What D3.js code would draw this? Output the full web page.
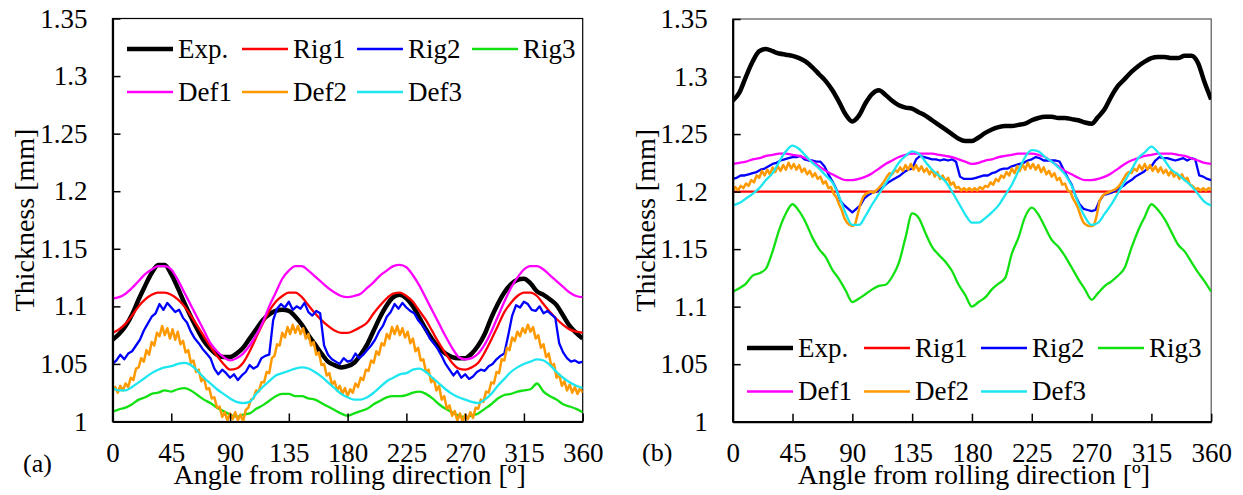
<!DOCTYPE html>
<html>
<head>
<meta charset="utf-8">
<script src="https://cdn.jsdelivr.net/npm/d3@7"></script>
<style>
  body { margin: 0; background: #fff; }
  svg text { font-family: "Liberation Serif", "Times New Roman", Tinos, serif !important; }
</style>
</head>
<body>
<svg id="fig" width="1243" height="495"></svg>
<script>
// ---- sampling angles (degrees from rolling direction) ----
const angles5 = d3.range(0, 361, 5);
const angles3 = d3.range(0, 361, 3);
const angles2 = d3.range(0, 361, 2);
const anglesFlat = [0, 45, 90, 135, 180, 225, 270, 315, 360];

// ---- axis ticks ----
const xTicks = [0, 45, 90, 135, 180, 225, 270, 315, 360];
const yTicks = [1, 1.05, 1.1, 1.15, 1.2, 1.25, 1.3, 1.35];

// ---- series names ----
const seriesNames = ["Exp.", "Rig1", "Rig2", "Rig3", "Def1", "Def2", "Def3"];

// ---- panel (a) thickness [mm] ----
const expA = [1.071,1.076,1.083,1.093,1.106,1.118,1.129,1.136,1.136,1.128,1.116,1.103,1.091,1.080,1.070,1.063,1.058,1.056,1.056,1.059,1.064,1.072,1.080,1.088,1.093,1.096,1.097,1.096,1.091,1.084,1.075,1.067,1.059,1.052,1.049,1.047,1.048,1.051,1.058,1.067,1.079,1.091,1.101,1.108,1.110,1.107,1.100,1.090,1.080,1.071,1.064,1.059,1.056,1.055,1.055,1.059,1.066,1.076,1.090,1.102,1.112,1.119,1.123,1.124,1.120,1.113,1.110,1.106,1.101,1.092,1.083,1.077,1.072];
const rig1A = [1.077,1.080,1.085,1.092,1.100,1.106,1.110,1.112,1.112,1.110,1.106,1.100,1.092,1.083,1.074,1.065,1.057,1.050,1.045,1.046,1.051,1.061,1.073,1.085,1.096,1.104,1.109,1.112,1.112,1.108,1.101,1.094,1.088,1.083,1.079,1.077,1.077,1.079,1.082,1.086,1.094,1.101,1.107,1.111,1.112,1.109,1.104,1.096,1.088,1.078,1.068,1.059,1.051,1.046,1.045,1.047,1.051,1.060,1.071,1.083,1.095,1.103,1.109,1.112,1.112,1.109,1.102,1.095,1.089,1.084,1.080,1.078,1.077];
const rig2A = [1.050,1.053,1.058,1.054,1.059,1.061,1.066,1.071,1.079,1.085,1.091,1.094,1.102,1.097,1.103,1.099,1.095,1.097,1.090,1.086,1.078,1.072,1.068,1.063,1.059,1.055,1.046,1.041,1.045,1.042,1.038,1.041,1.036,1.040,1.043,1.049,1.046,1.048,1.055,1.057,1.058,1.088,1.098,1.102,1.099,1.104,1.097,1.100,1.098,1.103,1.095,1.092,1.096,1.094,1.066,1.058,1.054,1.052,1.050,1.055,1.052,1.053,1.059,1.055,1.058,1.062,1.066,1.071,1.078,1.083,1.091,1.095,1.102,1.098,1.103,1.099,1.096,1.094,1.088,1.084,1.079,1.072,1.068,1.063,1.057,1.050,1.045,1.040,1.044,1.038,1.041,1.037,1.039,1.043,1.045,1.044,1.048,1.050,1.054,1.057,1.059,1.075,1.092,1.101,1.099,1.104,1.102,1.097,1.096,1.100,1.094,1.096,1.093,1.090,1.068,1.060,1.055,1.052,1.053,1.051,1.052];
const rig3A = [1.0085,1.0105,1.012,1.015,1.019,1.021,1.024,1.025,1.027,1.026,1.028,1.029,1.027,1.023,1.019,1.016,1.012,1.009,1.006,1.004,1.006,1.007,1.011,1.014,1.018,1.022,1.024,1.024,1.022,1.022,1.020,1.019,1.016,1.013,1.010,1.007,1.005,1.007,1.009,1.011,1.015,1.018,1.021,1.022,1.022,1.023,1.025,1.026,1.024,1.020,1.015,1.011,1.008,1.005,1.004,1.005,1.007,1.011,1.015,1.020,1.023,1.024,1.026,1.027,1.028,1.033,1.026,1.022,1.019,1.015,1.013,1.011,1.008];
const def1A = [1.107,1.108,1.111,1.116,1.122,1.128,1.132,1.135,1.135,1.132,1.123,1.112,1.101,1.090,1.079,1.068,1.061,1.056,1.053,1.055,1.059,1.066,1.075,1.086,1.100,1.112,1.124,1.131,1.135,1.135,1.131,1.126,1.121,1.116,1.112,1.109,1.108,1.109,1.111,1.116,1.121,1.127,1.131,1.135,1.136,1.134,1.127,1.118,1.107,1.096,1.085,1.074,1.064,1.056,1.054,1.055,1.059,1.067,1.078,1.091,1.104,1.116,1.125,1.132,1.135,1.135,1.132,1.127,1.122,1.117,1.112,1.109,1.108];
const def2A = [1.026,1.030,1.025,1.031,1.027,1.033,1.030,1.038,1.036,1.046,1.047,1.055,1.052,1.062,1.058,1.069,1.066,1.077,1.074,1.083,1.075,1.081,1.072,1.080,1.071,1.078,1.067,1.070,1.060,1.062,1.051,1.053,1.043,1.045,1.035,1.038,1.028,1.029,1.020,1.021,1.012,1.013,1.004,1.008,1.001,1.007,1.002,1.008,1.001,1.006,1.000,1.010,1.012,1.019,1.020,1.027,1.026,1.034,1.034,1.043,1.042,1.055,1.057,1.067,1.066,1.077,1.073,1.082,1.076,1.084,1.077,1.083,1.076,1.081,1.072,1.076,1.066,1.069,1.058,1.060,1.049,1.050,1.040,1.042,1.032,1.035,1.027,1.031,1.024,1.029,1.022,1.028,1.025,1.033,1.030,1.038,1.036,1.045,1.044,1.053,1.051,1.061,1.058,1.068,1.066,1.076,1.072,1.082,1.076,1.083,1.075,1.081,1.073,1.078,1.068,1.072,1.061,1.064,1.053,1.054,1.043,1.045,1.034,1.037,1.027,1.031,1.019,1.022,1.011,1.014,1.005,1.009,1.001,1.007,1.000,1.006,1.002,1.008,1.003,1.012,1.011,1.019,1.017,1.026,1.025,1.034,1.033,1.043,1.042,1.054,1.053,1.064,1.062,1.073,1.070,1.078,1.074,1.081,1.077,1.084,1.078,1.082,1.072,1.075,1.064,1.067,1.056,1.059,1.048,1.050,1.038,1.041,1.031,1.035,1.027,1.032,1.025,1.030,1.024,1.029,1.025];
const def3A = [1.029,1.027,1.027,1.030,1.034,1.038,1.042,1.045,1.047,1.048,1.050,1.051,1.049,1.044,1.038,1.033,1.028,1.024,1.020,1.017,1.016,1.017,1.024,1.030,1.035,1.040,1.042,1.044,1.046,1.047,1.046,1.043,1.039,1.034,1.029,1.024,1.021,1.019,1.019,1.021,1.025,1.030,1.035,1.038,1.041,1.042,1.045,1.046,1.043,1.038,1.033,1.028,1.024,1.021,1.019,1.017,1.016,1.019,1.024,1.031,1.037,1.043,1.047,1.050,1.052,1.054,1.053,1.049,1.043,1.038,1.034,1.031,1.029];

// ---- panel (b) thickness [mm] ----
const expB = [1.279,1.286,1.300,1.313,1.322,1.324,1.322,1.320,1.319,1.318,1.316,1.313,1.308,1.302,1.296,1.288,1.278,1.267,1.261,1.266,1.277,1.285,1.288,1.284,1.279,1.275,1.273,1.272,1.269,1.266,1.262,1.258,1.254,1.250,1.246,1.244,1.244,1.247,1.251,1.254,1.256,1.257,1.257,1.258,1.259,1.262,1.264,1.265,1.265,1.264,1.264,1.263,1.262,1.260,1.259,1.265,1.272,1.283,1.292,1.298,1.304,1.309,1.313,1.316,1.317,1.317,1.316,1.316,1.318,1.318,1.312,1.295,1.280];
const rig1B = [1.2,1.2,1.2,1.2,1.2,1.2,1.2,1.2,1.2];
const rig2B = [1.211,1.212,1.214,1.214,1.215,1.216,1.217,1.219,1.220,1.222,1.224,1.225,1.227,1.228,1.229,1.230,1.230,1.231,1.228,1.227,1.227,1.226,1.226,1.222,1.215,1.209,1.202,1.192,1.188,1.185,1.182,1.185,1.188,1.194,1.197,1.199,1.200,1.202,1.205,1.208,1.210,1.212,1.214,1.217,1.219,1.220,1.228,1.231,1.230,1.229,1.228,1.228,1.227,1.228,1.227,1.228,1.226,1.213,1.211,1.211,1.211,1.212,1.213,1.214,1.214,1.216,1.217,1.219,1.220,1.220,1.222,1.223,1.224,1.225,1.227,1.228,1.230,1.229,1.227,1.227,1.227,1.227,1.226,1.219,1.212,1.206,1.196,1.189,1.185,1.184,1.183,1.184,1.192,1.197,1.198,1.199,1.201,1.203,1.205,1.208,1.210,1.213,1.215,1.217,1.220,1.222,1.227,1.230,1.229,1.229,1.228,1.227,1.228,1.229,1.227,1.229,1.228,1.214,1.213,1.211,1.210];
const rig3B = [1.113,1.116,1.120,1.127,1.129,1.133,1.148,1.167,1.181,1.189,1.183,1.173,1.160,1.150,1.143,1.132,1.124,1.114,1.104,1.107,1.111,1.115,1.118,1.119,1.126,1.138,1.160,1.181,1.177,1.164,1.152,1.145,1.139,1.131,1.119,1.110,1.100,1.104,1.108,1.115,1.120,1.125,1.146,1.160,1.178,1.186,1.180,1.169,1.158,1.152,1.144,1.134,1.124,1.115,1.106,1.112,1.118,1.122,1.127,1.134,1.151,1.166,1.178,1.189,1.184,1.176,1.165,1.154,1.148,1.139,1.130,1.122,1.113];
const def1B = [1.224,1.225,1.226,1.228,1.229,1.231,1.232,1.233,1.233,1.232,1.231,1.229,1.226,1.222,1.218,1.215,1.212,1.210,1.210,1.211,1.213,1.216,1.220,1.224,1.227,1.230,1.232,1.233,1.233,1.233,1.233,1.232,1.231,1.230,1.228,1.226,1.224,1.225,1.227,1.228,1.230,1.231,1.232,1.233,1.233,1.233,1.232,1.230,1.226,1.222,1.218,1.215,1.212,1.210,1.210,1.211,1.213,1.216,1.220,1.224,1.227,1.229,1.231,1.232,1.233,1.233,1.233,1.232,1.231,1.229,1.227,1.225,1.224];
const def2B = [1.201,1.204,1.201,1.205,1.203,1.207,1.205,1.210,1.208,1.214,1.212,1.218,1.214,1.219,1.215,1.221,1.217,1.222,1.218,1.223,1.219,1.225,1.220,1.224,1.219,1.223,1.217,1.220,1.215,1.218,1.213,1.216,1.211,1.213,1.207,1.209,1.203,1.204,1.198,1.195,1.189,1.184,1.177,1.173,1.171,1.170,1.171,1.180,1.189,1.195,1.198,1.199,1.200,1.199,1.201,1.203,1.206,1.209,1.213,1.216,1.215,1.219,1.217,1.221,1.218,1.223,1.219,1.224,1.219,1.223,1.218,1.222,1.217,1.220,1.215,1.219,1.213,1.217,1.211,1.214,1.209,1.212,1.206,1.208,1.203,1.204,1.201,1.203,1.201,1.203,1.201,1.203,1.201,1.204,1.202,1.205,1.204,1.208,1.206,1.211,1.209,1.214,1.212,1.217,1.214,1.220,1.216,1.222,1.218,1.224,1.219,1.225,1.220,1.224,1.219,1.223,1.217,1.221,1.215,1.218,1.213,1.216,1.210,1.212,1.206,1.207,1.201,1.200,1.194,1.190,1.185,1.178,1.173,1.171,1.170,1.170,1.171,1.180,1.192,1.196,1.198,1.199,1.200,1.201,1.202,1.204,1.207,1.211,1.215,1.217,1.216,1.220,1.218,1.223,1.219,1.224,1.219,1.223,1.218,1.222,1.217,1.221,1.216,1.219,1.214,1.218,1.213,1.216,1.211,1.215,1.210,1.212,1.206,1.205,1.202,1.203,1.201,1.203,1.201,1.203,1.202];
const def3B = [1.188,1.190,1.194,1.198,1.203,1.210,1.216,1.226,1.235,1.240,1.237,1.231,1.225,1.220,1.214,1.208,1.196,1.181,1.171,1.171,1.179,1.189,1.198,1.207,1.216,1.225,1.231,1.235,1.233,1.226,1.219,1.214,1.209,1.200,1.190,1.180,1.173,1.173,1.177,1.182,1.188,1.197,1.206,1.218,1.230,1.236,1.235,1.230,1.226,1.221,1.215,1.205,1.190,1.178,1.171,1.173,1.181,1.189,1.199,1.209,1.219,1.229,1.234,1.239,1.234,1.227,1.219,1.215,1.210,1.205,1.198,1.191,1.188];

const colors = { "Exp.": "#000000", "Rig1": "#ff0000", "Rig2": "#0000ff", "Rig3": "#11e011",
                 "Def1": "#ff00ff", "Def2": "#ff9900", "Def3": "#1ee6f0" };

const panels = [
  {
    tag: "(a)", clip: "clipA",
    left: 112.5, right: 582.7, top: 18.5, bottom: 421.5,
    tagX: 23, tagY: 472,
    legend: { x0: 127, y0: 49, dx: 115, dy: 43 },
    series: {
      "Exp.": [angles5, expA], "Rig1": [angles5, rig1A], "Rig2": [angles3, rig2A], "Rig3": [angles5, rig3A],
      "Def1": [angles5, def1A], "Def2": [angles2, def2A], "Def3": [angles5, def3A]
    },
    frame: "#000"
  },
  {
    tag: "(b)", clip: "clipB",
    left: 732.7, right: 1211.2, top: 19, bottom: 421.7,
    tagX: 642, tagY: 461,
    legend: { x0: 747, y0: 348, dx: 117, dy: 43.5 },
    series: {
      "Exp.": [angles5, expB], "Rig1": [anglesFlat, rig1B], "Rig2": [angles3, rig2B], "Rig3": [angles5, rig3B],
      "Def1": [angles5, def1B], "Def2": [angles2, def2B], "Def3": [angles5, def3B]
    },
    frame: "#555"
  }
];

const noisy = new Set(["Rig2", "Def2"]);
const svg = d3.select("#fig");
const SERIF_STACK = '"Liberation Serif", "Times New Roman", Tinos, serif';
const FS = 27;       // ticks and legend
const FS_TITLE = 28; // axis titles

function styleText(sel, size) {
  return sel.attr("font-family", SERIF_STACK)
    .attr("font-size", size)
    .attr("fill", "#000")
    .style("font-family", SERIF_STACK, "important")
    .style("font-size", size + "px", "important");
}

panels.forEach(p => {
  const x = d3.scaleLinear().domain([0, 360]).range([p.left, p.right]);
  const y = d3.scaleLinear().domain([1, 1.35]).range([p.bottom, p.top]);
  const g = svg.append("g")
    .attr("font-family", SERIF_STACK)
    .style("font-family", SERIF_STACK, "important");

  g.append("clipPath").attr("id", p.clip)
    .append("rect").attr("x", p.left).attr("y", p.top)
    .attr("width", p.right - p.left).attr("height", p.bottom - p.top);

  // frame
  g.append("rect").attr("x", p.left).attr("y", p.top)
    .attr("width", p.right - p.left).attr("height", p.bottom - p.top)
    .attr("fill", "none").attr("stroke", p.frame).attr("stroke-width", 1.2);

  // data lines
  const lines = g.append("g").attr("clip-path", `url(#${p.clip})`);
  seriesNames.forEach(name => {
    const [ang, vals] = p.series[name];
    const pts = ang.map((a, i) => [a, vals[i]]);
    const line = d3.line()
      .x(d => x(d[0])).y(d => y(d[1]))
      .curve(noisy.has(name) ? d3.curveLinear : d3.curveMonotoneX);
    lines.append("path").datum(pts)
      .attr("d", line)
      .attr("fill", "none")
      .attr("stroke", colors[name])
      .attr("stroke-width", name === "Exp." ? 4.5 : (name === "Def2" ? 2.5 : 2.3))
      .attr("stroke-linejoin", "round");
  });

  // axes
  const yAxis = d3.axisLeft(y).tickValues(yTicks).tickSizeInner(-8).tickSizeOuter(0)
    .tickPadding(25).tickFormat(d3.format("~g"));
  const xAxis = d3.axisBottom(x).tickValues(xTicks).tickSizeInner(-8).tickSizeOuter(0)
    .tickPadding(0).tickFormat(d3.format("d"));

  const ya = g.append("g").attr("transform", `translate(${p.left},0)`).call(yAxis);
  const xa = g.append("g").attr("transform", `translate(0,${p.bottom})`).call(xAxis);
  [ya, xa].forEach(a => {
    a.attr("font-family", SERIF_STACK).attr("font-size", FS);
    a.select(".domain").attr("stroke", "#000").attr("stroke-width", 2.2);
    a.selectAll(".tick line").attr("stroke", "#000").attr("stroke-width", 1.5);
    styleText(a.selectAll(".tick text"), FS);
  });
  xa.selectAll(".tick text").attr("y", 40).attr("dy", null);

  // axis titles
  styleText(g.append("text"), FS_TITLE)
    .attr("transform", `translate(${p.left - 88},${(p.top + p.bottom) / 2}) rotate(-90)`)
    .attr("text-anchor", "middle").attr("dy", "0.35em")
    .text("Thickness [mm]");
  styleText(g.append("text"), FS_TITLE)
    .attr("x", (p.left + p.right) / 2 + 2).attr("y", 484)
    .attr("text-anchor", "middle")
    .text("Angle from rolling direction [º]");
  styleText(g.append("text"), 26)
    .attr("x", p.tagX).attr("y", p.tagY).text(p.tag);

  // legend: two rows, four columns
  const lg = g.append("g");
  seriesNames.forEach((name, i) => {
    const row = i < 4 ? 0 : 1, col = i < 4 ? i : i - 4;
    const lx = p.legend.x0 + col * p.legend.dx;
    const ly = p.legend.y0 + row * p.legend.dy;
    lg.append("line").attr("x1", lx).attr("x2", lx + 46).attr("y1", ly).attr("y2", ly)
      .attr("stroke", colors[name]).attr("stroke-width", name === "Exp." ? 4.5 : 2.3);
    styleText(lg.append("text"), FS)
      .attr("x", lx + 51).attr("y", ly).attr("dy", "0.33em")
      .text(name);
  });
});
</script>
</body>
</html>
